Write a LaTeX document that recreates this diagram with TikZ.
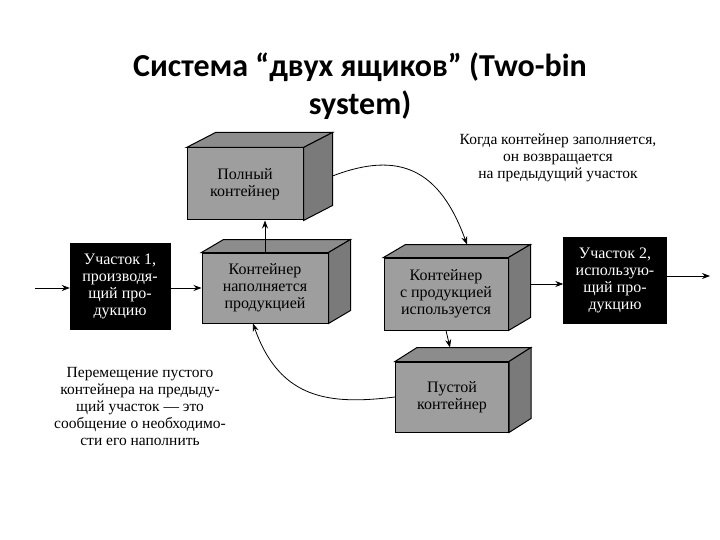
\documentclass[tikz,border=0pt]{standalone}
\usepackage{fontspec}
\setmainfont{Liberation Serif}
\newfontfamily\titlefont{Carlito}
\usetikzlibrary{arrows.meta,calc}
\definecolor{frontc}{gray}{0.62}
\definecolor{topc}{gray}{0.55}
\definecolor{sidec}{gray}{0.48}
\tikzset{
 front/.style={draw=black,line width=1pt,fill=frontc,align=center,inner sep=0pt,font=\fontsize{16}{17}\selectfont},
 blk/.style={draw=black,fill=black,text=white,align=center,inner sep=0pt,font=\fontsize{16}{17}\selectfont},
 arr/.style={-{Stealth[length=8pt,width=6pt]},line width=0.8pt},
 note/.style={align=center,font=\fontsize{15.5}{17}\selectfont}
}
\newcommand{\mycube}[8]{%
 \node[front,minimum width=#4,minimum height=#5] (#1) at (#2,#3) {#8};
 \fill[topc,draw=black,line width=1pt] (#1.north west) -- ++(#6,#7) -- ($(#1.north east)+(#6,#7)$) -- (#1.north east) -- cycle;
 \fill[sidec,draw=black,line width=1pt] (#1.north east) -- ++(#6,#7) -- ($(#1.south east)+(#6,#7)$) -- (#1.south east) -- cycle;
 \node[front,minimum width=#4,minimum height=#5] at (#2,#3) {#8};
}
\begin{document}
\begin{tikzpicture}[x=1pt,y=-1pt]
\useasboundingbox (0,0) rectangle (720,540);
\fill[white] (0,0) rectangle (720,540);
\node[font=\titlefont\bfseries\fontsize{32}{38}\selectfont,align=center] (title) at (360,86) {Система “двух ящиков” (Two-bin\\system)};
\mycube{full}{245}{184}{116}{72}{29}{-15}{Полный\\контейнер}
\mycube{fill}{265}{288}{126}{70}{22}{-13}{Контейнер\\наполняется\\продукцией}
\mycube{used}{446}{294}{124}{72}{22}{-13}{Контейнер\\с продукцией\\используется}
\mycube{empty}{452}{397}{113}{70}{22}{-14}{Пустой\\контейнер}
\node[blk,minimum width=100,minimum height=86] (s1) at (120,286) {Участок 1,\\производя-\\щий про-\\дукцию};
\node[blk,minimum width=103,minimum height=86] (s2) at (615,280) {Участок 2,\\использую-\\щий про-\\дукцию};
\coordinate (in) at (35,288);
\coordinate (out) at (710,276);
\draw[arr] (in) -- (s1.west|-in);
\draw[arr] (s1.east|-fill) -- (fill.west);
\draw[arr] ($(used.east)+(22,-10)$) coordinate (ue) -- (s2.west|-ue);
\draw[arr] (s2.east|-out) -- (out);
\draw[arr] (fill.north) -- (fill.north|-full.south);
\draw[arr] ($(full.east)+(29,-8)$) .. controls (400,150) and (440,170) .. ($(used.north)+(21,-13)$);
\draw[arr] (used.south) -- ($(empty.north)+(-2,-14)$);
\draw[arr] (empty.west) .. controls (330,405) and (280,400) .. ($(fill.south)+(-12,0)$);
\node[note] (n1) at (558,158) {Когда контейнер заполняется,\\он возвращается\\на предыдущий участок};
\node[note] (n2) at (140,406) {Перемещение пустого\\контейнера на предыду-\\щий участок — это\\сообщение о необходимо-\\сти его наполнить};
\end{tikzpicture}
\end{document}
